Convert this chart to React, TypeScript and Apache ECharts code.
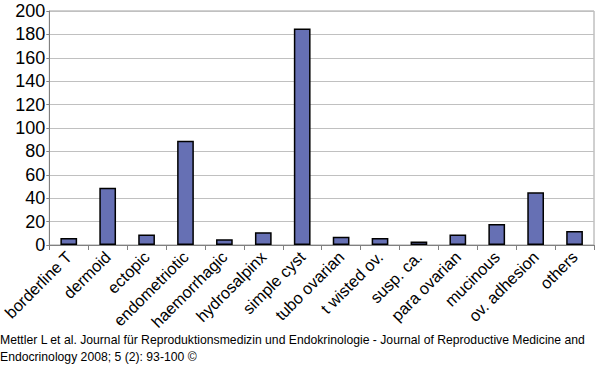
import React, { useEffect, useRef } from "react";
import * as echarts from "echarts";

const categories = [
  "borderline T", "dermoid", "ectopic", "endometriotic", "haemorrhagic",
  "hydrosalpinx", "simple cyst", "tubo ovarian", "t wisted ov.", "susp. ca.",
  "para ovarian", "mucinous", "ov. adhesion", "others",
];
const values = [6, 49, 9, 89, 5, 11, 185, 7, 6, 3, 9, 18, 45, 12];
const yTicks = [0, 20, 40, 60, 80, 100, 120, 140, 160, 180, 200];
const footer = [
  "Mettler L et al. Journal für Reproduktionsmedizin und Endokrinologie - Journal of Reproductive Medicine and",
  "Endocrinology 2008; 5 (2): 93-100 ©",
];

const FONT = "Liberation Sans, Arial, sans-serif";

export default function App() {
  const ref = useRef<HTMLDivElement>(null);
  useEffect(() => {
    const chart = echarts.init(ref.current!, null, { renderer: "svg" });
    chart.setOption({
      animation: false,
      backgroundColor: "#ffffff",
      textStyle: { fontFamily: FONT },
      grid: {
        left: 37, right: 6, top: 11, bottom: 145,
        show: true, borderColor: "#a0a0a0", borderWidth: 1,
      },
      xAxis: {
        type: "category",
        data: categories,
        axisLine: { show: true, lineStyle: { color: "#808080", width: 1 } },
        axisTick: { show: true, alignWithLabel: false, length: 5, lineStyle: { color: "#808080" } },
        axisLabel: {
          rotate: 45, interval: 0, color: "#000", fontSize: 16.3, margin: 9,
          fontFamily: FONT,
        },
      },
      yAxis: {
        type: "value",
        min: yTicks[0],
        max: yTicks[yTicks.length - 1],
        interval: 20,
        axisLine: { show: true, lineStyle: { color: "#808080", width: 1 } },
        axisTick: { show: true, length: 3, lineStyle: { color: "#808080" } },
        axisLabel: { color: "#000", fontSize: 18, margin: 4, fontFamily: FONT },
        splitLine: { show: true, lineStyle: { color: "#c0c0c0", width: 1 } },
      },
      series: [
        {
          type: "bar",
          data: values,
          barWidth: "43%",
          itemStyle: { color: "#6670b4", borderColor: "#000", borderWidth: 1.5 },
        },
      ],
      graphic: footer.map((t, i) => ({
        type: "text",
        left: 0,
        top: 334 + i * 17,
        style: { text: t, fill: "#000", fontSize: 12.2, fontFamily: FONT },
      })),
    });
    return () => chart.dispose();
  }, []);
  return <div ref={ref} style={{ width: 600, height: 390, position: "absolute", left: 0, top: 0 }} />;
}
